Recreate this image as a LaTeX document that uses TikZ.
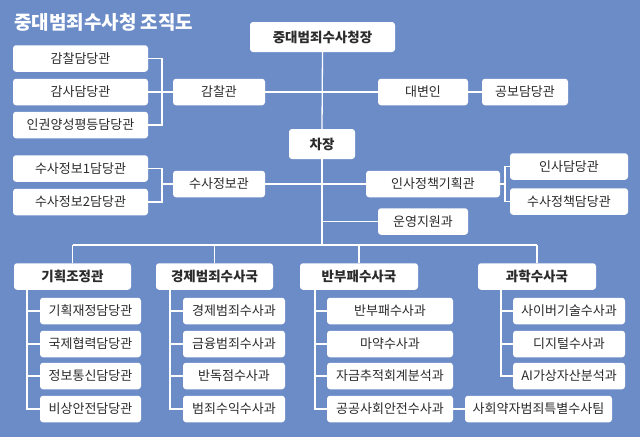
\documentclass[tikz,border=0pt]{standalone}
\usepackage{fontspec}
\setmainfont{Noto Sans CJK KR}
\definecolor{bg}{HTML}{6C8CC8}
\definecolor{tx}{HTML}{2B2B2B}
\begin{document}
\begin{tikzpicture}[x=1pt,y=-1pt,
  box/.style={fill=white,rounded corners=3pt,inner sep=0pt,text=tx,font=\fontsize{13}{13}\selectfont,minimum height=26.5pt},
  hbox/.style={box,font=\fontsize{13.5}{13.5}\selectfont\bfseries},
  ln/.style={draw=white,line width=1.3pt}]
\fill[bg] (0,0) rectangle (640,437);
\useasboundingbox (0,0) rectangle (640,437);
\node[anchor=west,text=white,font=\fontsize{19}{19}\selectfont\bfseries,inner sep=0pt] (title) at (14,22) {중대범죄수사청 조직도};
% top
\node[hbox,minimum width=145pt,minimum height=30pt] (head) at (322.5,37) {중대범죄수사청장};
\node[hbox,minimum width=66pt,minimum height=30pt] (vice) at (322,144) {차장};
% left group 1
\node[box,minimum width=135pt] (a1) at (80.5,58.5) {감찰담당관};
\node[box,minimum width=135pt] (a2) at (80.5,92) {감사담당관};
\node[box,minimum width=135pt] (a3) at (80.5,125) {인권양성평등담당관};
\node[box,minimum width=92pt] (gam) at (219,92) {감찰관};
\node[box,minimum width=90pt] (dae) at (423,92) {대변인};
\node[box,minimum width=86pt] (gong) at (525,92) {공보담당관};
% left group 2
\node[box,minimum width=135pt] (b1) at (80.5,168.5) {수사정보1담당관};
\node[box,minimum width=135pt] (b2) at (80.5,202) {수사정보2담당관};
\node[box,minimum width=92pt] (jb) at (219,184) {수사정보관};
\node[box,minimum width=134pt] (ins) at (433,184) {인사정책기획관};
\node[box,minimum width=118pt] (c1) at (569,166.5) {인사담당관};
\node[box,minimum width=118pt] (c2) at (569,201.5) {수사정책담당관};
\node[box,minimum width=90pt] (uy) at (423,221.5) {운영지원과};
% groups
\node[hbox,minimum width=117pt] (g1) at (72.5,276.5) {기획조정관};
\node[hbox,minimum width=117pt] (g2) at (214.5,276.5) {경제범죄수사국};
\node[hbox,minimum width=118pt] (g3) at (359,276.5) {반부패수사국};
\node[hbox,minimum width=118pt] (g4) at (537,276.5) {과학수사국};
% subs
\node[box,minimum width=101pt] (s11) at (90.5,311) {기획재정담당관};
\node[box,minimum width=101pt] (s12) at (90.5,344) {국제협력담당관};
\node[box,minimum width=101pt] (s13) at (90.5,376) {정보통신담당관};
\node[box,minimum width=101pt] (s14) at (90.5,409) {비상안전담당관};
\node[box,minimum width=102pt] (s21) at (234,311) {경제범죄수사과};
\node[box,minimum width=102pt] (s22) at (234,344) {금융범죄수사과};
\node[box,minimum width=102pt] (s23) at (234,376) {반독점수사과};
\node[box,minimum width=102pt] (s24) at (234,409) {범죄수익수사과};
\node[box,minimum width=126pt] (s31) at (390,311) {반부패수사과};
\node[box,minimum width=126pt] (s32) at (390,344) {마약수사과};
\node[box,minimum width=126pt] (s33) at (390,376) {자금추적회계분석과};
\node[box,minimum width=126pt] (s34) at (390,409) {공공사회안전수사과};
\node[box,minimum width=147pt] (s35) at (538.5,409) {사회약자범죄특별수사팀};
\node[box,minimum width=112pt] (s41) at (569,311) {사이버기술수사과};
\node[box,minimum width=112pt] (s42) at (569,344) {디지털수사과};
\node[box,minimum width=112pt] (s43) at (569,376) {AI가상자산분석과};
% coordinates
\coordinate (ka) at (162,92);
\coordinate (kb) at (162,184);
\coordinate (kc) at (505,184);
\coordinate (t1) at (322,245);
\coordinate (v1) at (27,0); \coordinate (v2) at (170,0); \coordinate (v3) at (315,0); \coordinate (v4) at (501,0);
% connectors
\draw[ln] (head.south) -- (vice.north);
\draw[ln] (vice.south) -- (t1);
\draw[ln] (gam.east) -- (gam.east -| head.south);
\draw[ln] (dae.west) -- (dae.west -| head.south);
\draw[ln] (dae.east) -- (gong.west);
\draw[ln] (a1.east) -| (ka) |- (a3.east);
\draw[ln] (a2.east) -- (gam.west);
\draw[ln] (b1.east) -| (kb) |- (b2.east);
\draw[ln] (kb) -- (jb.west);
\draw[ln] (jb.east) -- (jb.east -| vice.south);
\draw[ln] (ins.west) -- (ins.west -| vice.south);
\draw[ln] (ins.east) -- (kc);
\draw[ln] (c1.west) -| (kc) |- (c2.west);
\draw[ln] (uy.west) -- (uy.west -| vice.south);
\draw[ln] (g1.north |- t1) -- (g4.north |- t1);
\foreach \g in {g1,g2,g3,g4} \draw[ln] (\g.north |- t1) -- (\g.north);
\draw[ln] (g1.south -| v1) |- (s14.west);
\foreach \s in {s11,s12,s13} \draw[ln] (\s.west -| v1) -- (\s.west);
\draw[ln] (g2.south -| v2) |- (s24.west);
\foreach \s in {s21,s22,s23} \draw[ln] (\s.west -| v2) -- (\s.west);
\draw[ln] (g3.south -| v3) |- (s34.west);
\foreach \s in {s31,s32,s33} \draw[ln] (\s.west -| v3) -- (\s.west);
\draw[ln] (g4.south -| v4) |- (s43.west);
\foreach \s in {s41,s42} \draw[ln] (\s.west -| v4) -- (\s.west);
\draw[ln] (s34.east) -- (s35.west);
\end{tikzpicture}
\end{document}
